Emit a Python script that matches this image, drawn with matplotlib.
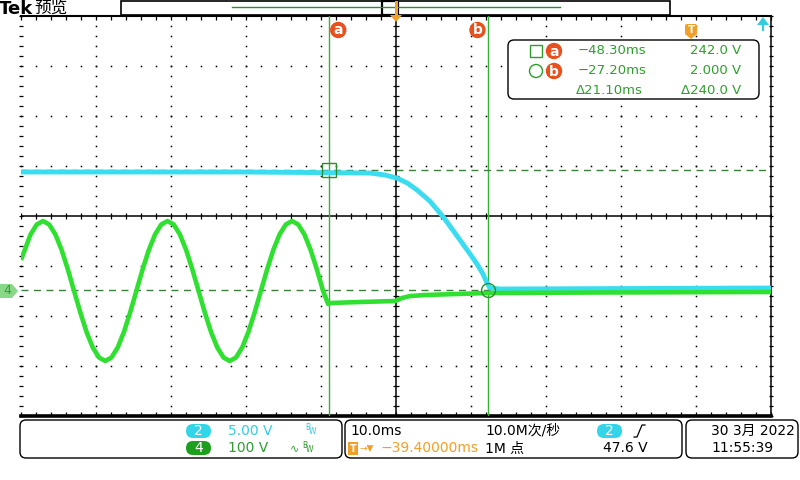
import numpy as np
import matplotlib
matplotlib.use('Agg')
import matplotlib.pyplot as plt
from matplotlib.patches import FancyBboxPatch, Rectangle, Polygon, Circle

plt.rcParams['font.family'] = ['DejaVu Sans', 'Noto Sans CJK SC']

# ---------------- data ----------------
# channel 4 (green, 100 V/div): time in ms, volts
green_t = [-89.40, -88.13, -87.30, -86.47, -85.64, -84.81, -83.98, -83.15, -82.32, -81.49,
           -80.66, -79.83, -79.00, -78.17, -77.34, -76.51, -75.68, -74.85, -74.02, -73.19,
           -72.36, -71.53, -70.70, -69.87, -69.04, -68.21, -67.38, -66.55, -65.72, -64.89,
           -64.06, -63.23, -62.40, -61.57, -60.74, -59.91, -59.08, -58.25, -57.42, -56.59,
           -55.76, -54.93, -54.10, -53.27, -52.44, -51.61, -50.78, -49.95, -49.12, -48.45,
           -48.20, -44.20, -39.50, -38.60, -37.50, -35.50, -27.10, -12.20, 10.60]
green_v = [62, 113, 133, 140, 133, 113, 82, 43, 0, -43,
           -82, -113, -133, -140, -133, -113, -82, -43, 0, 43,
           82, 113, 133, 140, 133, 113, 82, 43, 0, -43,
           -82, -113, -133, -140, -133, -113, -82, -43, 0, 43,
           82, 113, 133, 140, 133, 113, 82, 43, 0, -26,
           -24, -22, -20, -14, -10, -8, -4, -3, -2]
# channel 2 (cyan, 5 V/div)
cyan_t = [-89.4, -60.0, -42.9, -40.9, -39.3, -37.9, -36.6, -34.9, -33.1, -31.93,
          -30.87, -29.53, -28.60, -27.80, -27.27, -26.87, -25.5, 10.6]
cyan_v = [11.9, 11.9, 11.8, 11.6, 11.3, 10.8, 10.1, 9.0, 7.4, 6.2,
          5.1, 3.7, 2.7, 1.7, 0.8, 0.3, 0.2, 0.3]

cursor_t = [-48.30, -27.20]      # ms
cursor_v = [242.0, 2.000]        # V (ch4 scale)
ch2_scale = 5.00                 # V/div
ch4_scale = 100                  # V/div
time_scale = 10.0                # ms/div
h_pos = -39.40                   # ms
trig_level = 47.6                # V
sample_rate_label = '10.0M次/秒'
record_label = '1M 点'
date_label = '30 3月 2022'
time_label = '11:55:39'

# ---------------- layout ----------------
W, H = 800, 480
L, T, R, B = 21, 16, 771, 416
GND = -1.5  # ground position (div) of ch2/ch4

fig = plt.figure(figsize=(8, 4.8), dpi=100)
fig.patch.set_facecolor('white')
ax = fig.add_axes([L / W, 1 - B / H, (R - L) / W, (B - T) / H])
x0 = h_pos - 5 * time_scale
x1 = h_pos + 5 * time_scale
ax.set_xlim(x0, x1)
ax.set_ylim(-4, 4)
ax.axis('off')


def to_div(v, scale):
    return np.asarray(v, dtype=float) / scale + GND


def tx(t):
    return L + (t - x0) / (x1 - x0) * (R - L)


def ty(d):
    return T + (4 - d) / 8 * (B - T)


# graticule dots
ys_minor = np.arange(-4, 4.001, 0.2)
xs_minor = np.arange(x0, x1 + 0.001, time_scale / 5)
for k in range(1, 10):
    if k == 5:
        continue
    xk = x0 + k * time_scale
    ax.plot([xk] * len(ys_minor), ys_minor, ls='none', marker='s', ms=1.1,
            color='black', mec='none', zorder=1)
for j in range(-3, 4):
    if j == 0:
        continue
    ax.plot(xs_minor, [j] * len(xs_minor), ls='none', marker='s', ms=1.1,
            color='black', mec='none', zorder=1)

# center cross with ticks
ax.axvline(h_pos, color='black', lw=1.1, zorder=1)
ax.axhline(0, color='black', lw=1.1, zorder=1)
ax.plot(xs_minor, [0] * len(xs_minor), ls='none', marker='|', ms=5, mew=0.9, color='black', zorder=1)
ax.plot([h_pos] * len(ys_minor), ys_minor, ls='none', marker='_', ms=5, mew=0.9, color='black', zorder=1)

# borders
ax.plot([x0, x1], [4, 4], color='black', lw=1.5, clip_on=False, zorder=1)
ax.plot([x0, x1], [-4, -4], color='black', lw=2.6, clip_on=False, zorder=1)
ax.plot([x1, x1], [-4, 4], color='black', lw=1.1, clip_on=False, zorder=1)
ax.plot([x0] * len(ys_minor), ys_minor, ls='none', marker='_', ms=3, mew=0.9, color='black', clip_on=False)
ax.plot([x1] * len(ys_minor), ys_minor, ls='none', marker='_', ms=3, mew=0.9, color='black', clip_on=False)
ax.plot(xs_minor, [3.96] * len(xs_minor), ls='none', marker='|', ms=3, mew=0.9, color='black', clip_on=False)
ax.plot(xs_minor, [-3.96] * len(xs_minor), ls='none', marker='|', ms=3, mew=0.9, color='black', clip_on=False)

# cursors
CUR = '#36B236'
for ct in cursor_t:
    ax.axvline(ct, color=CUR, lw=1.0, zorder=2)
for cv in cursor_v:
    ax.axhline(to_div(cv, ch4_scale), color='#3E7E3E', lw=1.0, ls=(0, (5, 4)), zorder=2)

# traces
ax.plot(cyan_t, to_div(cyan_v, ch2_scale), color='#3ADDF0', lw=3.5,
        solid_joinstyle='round', solid_capstyle='butt', zorder=3)
ax.plot(green_t, to_div(green_v, ch4_scale), color='#30E030', lw=3.3,
        solid_joinstyle='round', solid_capstyle='butt', zorder=4)

ax.plot([cursor_t[0]], [to_div(cursor_v[0], ch4_scale)], marker='s', ms=10, mfc='none',
        mec='#2E8B2E', mew=1.0, zorder=5)
ax.plot([cursor_t[1]], [to_div(cursor_v[1], ch4_scale)], marker='o', ms=10, mfc='none',
        mec='#2E8B2E', mew=1.0, zorder=5)

# ---------------- overlay (screen chrome) ----------------
ov = fig.add_axes([0, 0, 1, 1], zorder=10)
ov.set_xlim(0, W)
ov.set_ylim(H, 0)
ov.axis('off')
ov.patch.set_alpha(0)

ORANGE = '#F0A028'
RED = '#E8501E'
GTXT = '#2E9E2E'
CTXT = '#33CCE0'

# Tek title
ov.text(-1, 8.5, 'Tek', fontsize=13, fontweight='bold', ha='left', va='center', color='black',
        family=['DejaVu Sans'])
ov.text(34, 8.5, '预览', fontsize=12, ha='left', va='center', color='black',
        family=['Noto Sans CJK SC', 'DejaVu Sans'])

# record view bar
ov.add_patch(Rectangle((121, 0.5), 549, 14.5, fill=False, ec='black', lw=1.2))
ov.plot([232, 560], [7, 7], color='#2E8B2E', lw=1.0)
ov.add_patch(Rectangle((382, 1), 16, 14, fc='white', ec='black', lw=1.6))
ov.plot([396, 396], [2, 14], color=ORANGE, lw=2.2)
ov.add_patch(Polygon([[390, 15], [402, 15], [396, 22]], closed=True, fc=ORANGE, ec='none'))

# cursor labels a / b
for ct, lab in zip(cursor_t, ['a', 'b']):
    cx = tx(ct) + (9 if lab == 'a' else -10)
    ov.add_patch(Circle((cx, 30), 7.5, color=RED))
    ov.text(cx, 30.5, lab, color='white', fontsize=10, fontweight='bold', ha='center', va='center')

# trigger position marker (orange T) and trigger level arrow
ov.add_patch(FancyBboxPatch((685, 24), 12, 11, boxstyle='round,pad=0,rounding_size=2',
                            fc=ORANGE, ec='none'))
ov.add_patch(Polygon([[685, 34], [697, 34], [691, 39]], closed=True, fc=ORANGE, ec='none'))
ov.text(691, 30, 'T', color='white', fontsize=7.5, fontweight='bold', ha='center', va='center')
ov.add_patch(Polygon([[757, 25], [769, 25], [763, 17]], closed=True, fc='#33CCE0', ec='none'))
ov.plot([763, 763], [24, 30], color='#33CCE0', lw=1.5)

# channel 4 ground marker
gy = ty(GND)
ov.add_patch(Polygon([[0, gy - 7], [12, gy - 7], [18, gy], [12, gy + 7], [0, gy + 7]],
                     closed=True, fc='#88D888', ec='none'))
ov.text(7, gy, '4', color='#3C9A3C', fontsize=9, ha='center', va='center')

# measurement box
ov.add_patch(FancyBboxPatch((508, 40), 251, 59, boxstyle='round,pad=0,rounding_size=6',
                            fc='white', ec='black', lw=1.0))
rows_y = [51, 71, 90]
ov.add_patch(Rectangle((530, 45), 12, 12, fill=False, ec=GTXT, lw=1.0))
ov.add_patch(Circle((536, 71), 6.5, fill=False, ec=GTXT, lw=1.0))
for yy, lab in zip(rows_y[:2], ['a', 'b']):
    ov.add_patch(Circle((554, yy), 7.5, color=RED))
    ov.text(554, yy + 0.5, lab, color='white', fontsize=10, fontweight='bold', ha='center', va='center')
for yy, tv, vv in zip(rows_y[:2], cursor_t, cursor_v):
    ov.text(578, yy, f'\u2212{abs(tv):.2f}ms', color=GTXT, fontsize=9.5, ha='left', va='center')
    vtxt = f'{vv:.1f} V' if vv >= 10 else f'{vv:.3f} V'
    ov.text(741, yy, vtxt, color=GTXT, fontsize=9.5, ha='right', va='center')
ov.text(576, rows_y[2], f'\u0394{cursor_t[1] - cursor_t[0]:.2f}ms', color=GTXT, fontsize=9.5,
        ha='left', va='center')
ov.text(741, rows_y[2], f'\u0394{cursor_v[0] - cursor_v[1]:.1f} V', color=GTXT, fontsize=9.5,
        ha='right', va='center')

# ---------------- bottom panels ----------------
for (bx, bw) in [(20, 322), (345, 337), (686, 112)]:
    ov.add_patch(FancyBboxPatch((bx, 420), bw, 38, boxstyle='round,pad=0,rounding_size=6',
                                fc='white', ec='black', lw=1.0))

# panel 1: channel scales
ov.add_patch(FancyBboxPatch((186, 424), 25, 14, boxstyle='round,pad=0,rounding_size=7',
                            fc='#33D6E8', ec='none'))
ov.text(198.5, 431, '2', color='white', fontsize=10, ha='center', va='center')
ov.text(228, 431, f'{ch2_scale:.2f} V', color=CTXT, fontsize=10, ha='left', va='center')
ov.text(305, 427, 'B', color=CTXT, fontsize=5.5, ha='left', va='center')
ov.text(309, 432, 'W', color=CTXT, fontsize=5.5, ha='left', va='center')

ov.add_patch(FancyBboxPatch((186, 441), 25, 14, boxstyle='round,pad=0,rounding_size=7',
                            fc='#1E9E1E', ec='none'))
ov.text(198.5, 448, '4', color='white', fontsize=10, ha='center', va='center')
ov.text(228, 448, f'{ch4_scale} V', color=GTXT, fontsize=10, ha='left', va='center')
ov.text(290, 448, '\u223f', color=GTXT, fontsize=8, ha='left', va='center')
ov.text(302, 445, 'B', color=GTXT, fontsize=5.5, ha='left', va='center')
ov.text(306, 450, 'W', color=GTXT, fontsize=5.5, ha='left', va='center')

# panel 2: timebase / trigger
ov.text(350, 431, f'{time_scale:.1f}ms', color='black', fontsize=10, ha='left', va='center')
ov.text(485, 431, sample_rate_label, color='black', fontsize=10, ha='left', va='center',
        family=['DejaVu Sans', 'Noto Sans CJK SC'])
ov.add_patch(Rectangle((348, 442), 10, 13, fc=ORANGE, ec='none'))
ov.text(353, 448.5, 'T', color='white', fontsize=7, fontweight='bold', ha='center', va='center')
ov.text(359, 448.5, '\u2192\u25bc', color=ORANGE, fontsize=6.5, ha='left', va='center')
ov.text(381, 448.5, f'\u2212{abs(h_pos):.5f}ms', color=ORANGE, fontsize=10, ha='left', va='center')
ov.text(485, 448.5, record_label, color='black', fontsize=10, ha='left', va='center',
        family=['DejaVu Sans', 'Noto Sans CJK SC'])
ov.add_patch(FancyBboxPatch((597, 424), 25, 14, boxstyle='round,pad=0,rounding_size=7',
                            fc='#33D6E8', ec='none'))
ov.text(609.5, 431, '2', color='white', fontsize=10, ha='center', va='center')
ov.plot([634, 637, 642, 645], [437, 437, 425, 425], color='black', lw=0.9)
ov.text(603, 448.5, f'{trig_level:.1f} V', color='black', fontsize=10, ha='left', va='center')

# panel 3: date / time
ov.text(711, 431, date_label, color='black', fontsize=10, ha='left', va='center',
        family=['DejaVu Sans', 'Noto Sans CJK SC'])
ov.text(711, 448.5, time_label, color='black', fontsize=10, ha='left', va='center')

fig.savefig('out.png', dpi=100, facecolor='white')
